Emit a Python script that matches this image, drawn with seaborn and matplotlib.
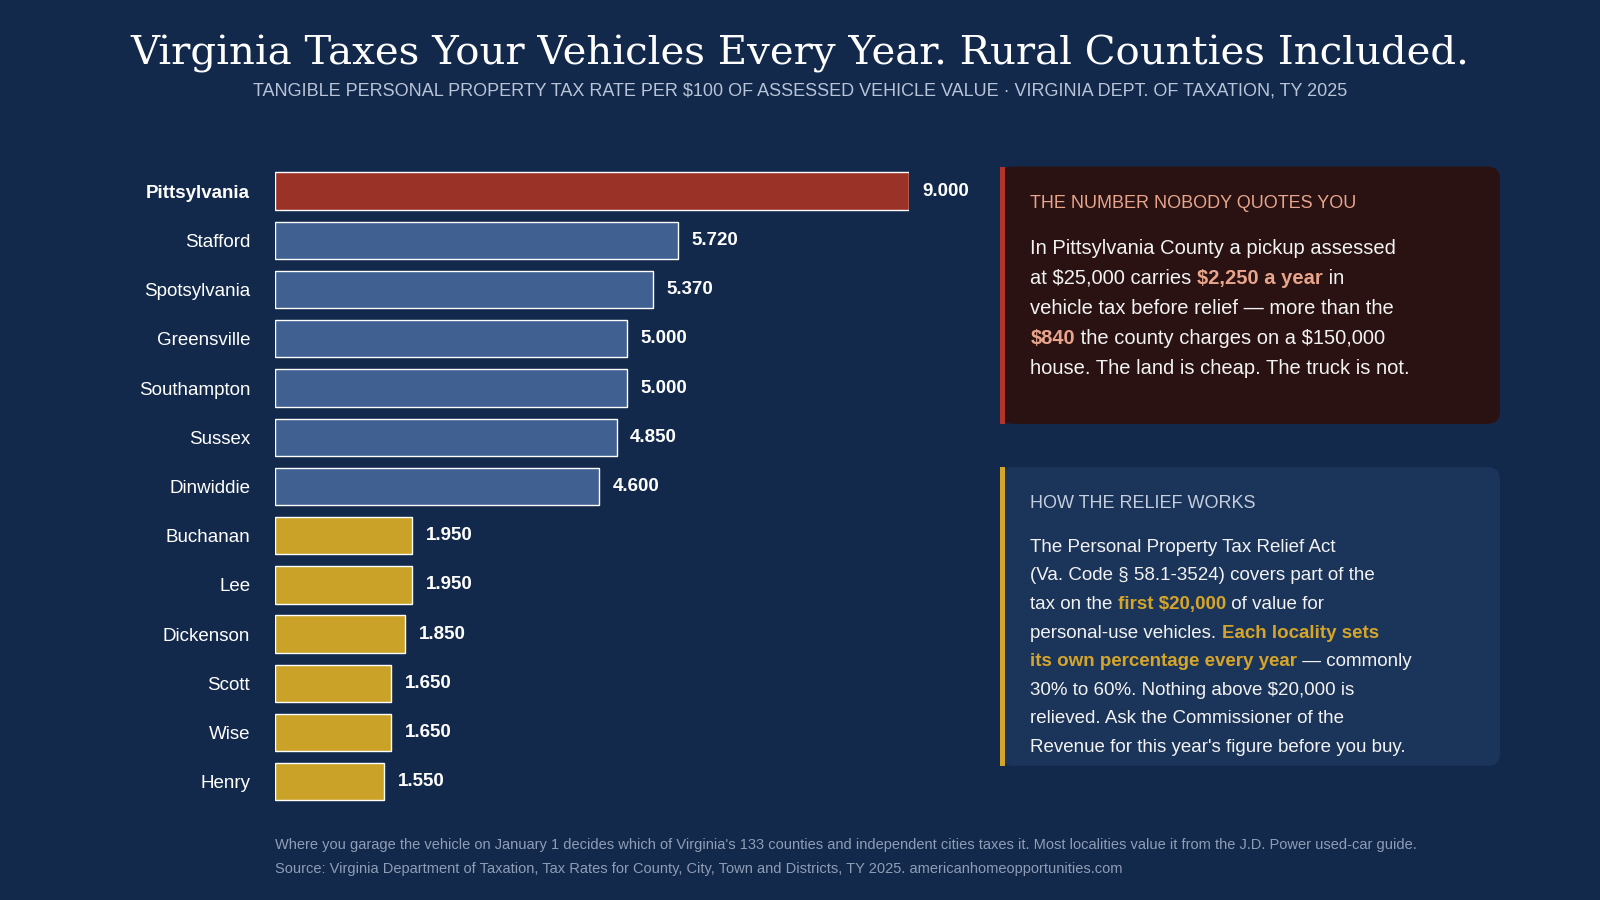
import matplotlib
matplotlib.use('Agg')
import matplotlib.pyplot as plt
from matplotlib.patches import FancyBboxPatch, Rectangle
import seaborn as sns
import pandas as pd

counties = ['Pittsylvania', 'Stafford', 'Spotsylvania', 'Greensville', 'Southampton', 'Sussex',
            'Dinwiddie', 'Buchanan', 'Lee', 'Dickenson', 'Scott', 'Wise', 'Henry']
rates = [9.000, 5.720, 5.370, 5.000, 5.000, 4.850, 4.600, 1.950, 1.950, 1.850, 1.650, 1.650, 1.550]
groups = ['top', 'high', 'high', 'high', 'high', 'high', 'high',
          'low', 'low', 'low', 'low', 'low', 'low']

BG = '#13294b'
palette = {'top': '#9b3228', 'high': '#3f6090', 'low': '#c9a227'}
SANS = 'Liberation Sans'

df = pd.DataFrame({'county': counties, 'rate': rates, 'group': groups})

sns.set_style('dark')
plt.rcParams['font.family'] = [SANS, 'DejaVu Sans']
fig = plt.figure(figsize=(16, 9), dpi=100, facecolor=BG)
ax = fig.add_axes([0.172, 0.104, 0.396, 0.711])
ax.set_facecolor(BG)
sns.barplot(data=df, y='county', x='rate', hue='group', palette=palette, dodge=False,
            legend=False, width=0.76, ax=ax, saturation=1)
ax.set_xlim(0, 9)
ax.set_ylim(len(counties) - 0.5, -0.5)
for s in ax.spines.values():
    s.set_visible(False)
ax.set_xticks([])
ax.set_xlabel('')
ax.set_ylabel('')
ax.tick_params(axis='y', length=0, pad=18, labelsize=13.5, labelcolor='white')
for lbl in ax.get_yticklabels():
    if lbl.get_text() == 'Pittsylvania':
        lbl.set_fontweight('bold')
for i, v in enumerate(rates):
    ax.text(v + 0.19, i, f'{v:.3f}', va='center', ha='left', color='white',
            fontsize=13.5, fontweight='bold')

fig.text(0.5, 0.94, 'Virginia Taxes Your Vehicles Every Year. Rural Counties Included.',
         ha='center', va='center', color='white', fontsize=29, family='DejaVu Serif')
fig.text(0.5, 0.899, 'TANGIBLE PERSONAL PROPERTY TAX RATE PER $100 OF ASSESSED VEHICLE VALUE · '
         'VIRGINIA DEPT. OF TAXATION, TY 2025', ha='center', va='center', color='#b8c4d8',
         fontsize=13)

fig.text(0.172, 0.061, "Where you garage the vehicle on January 1 decides which of Virginia's 133 counties "
         "and independent cities taxes it. Most localities value it from the J.D. Power used-car guide.",
         color='#8f9db5', fontsize=10.5, va='center')
fig.text(0.172, 0.035, 'Source: Virginia Department of Taxation, Tax Rates for County, City, Town and '
         'Districts, TY 2025. americanhomeopportunities.com', color='#8f9db5', fontsize=10.5, va='center')


def panel(x0, y0, x1, y1, face, edge):
    fig.patches.append(FancyBboxPatch((x0, y0), x1 - x0, y1 - y0, boxstyle='round,pad=0,rounding_size=0.008',
                                      transform=fig.transFigure, facecolor=face, edgecolor='none',
                                      mutation_aspect=16 / 9))
    fig.patches.append(Rectangle((x0, y0), 0.003, y1 - y0, transform=fig.transFigure,
                                 facecolor=edge, edgecolor='none'))


renderer = fig.canvas.get_renderer()


def rich_lines(x, y, lines, dy, size):
    for line in lines:
        cx = x
        for txt, bold, col in line:
            t = fig.text(cx, y, txt, color=col, fontsize=size, va='center',
                         fontweight='bold' if bold else 'normal')
            bb = t.get_window_extent(renderer)
            cx += bb.width / fig.bbox.width
        y -= dy


W = '#f2f2f2'
PINK = '#e8a58c'
GOLD = '#d4a52a'

panel(0.625, 0.529, 0.9375, 0.815, '#2a1212', '#b0362b')
fig.text(0.644, 0.774, 'THE NUMBER NOBODY QUOTES YOU', color=PINK, fontsize=13, va='center')
rich_lines(0.644, 0.724, [
    [('In Pittsylvania County a pickup assessed', False, W)],
    [('at $25,000 carries ', False, W), ('$2,250 a year', True, PINK), (' in', False, W)],
    [('vehicle tax before relief — more than the', False, W)],
    [('$840', True, PINK), (' the county charges on a $150,000', False, W)],
    [('house. The land is cheap. The truck is not.', False, W)],
], 0.0333, 14.5)

panel(0.625, 0.149, 0.9375, 0.481, '#1b3459', GOLD)
fig.text(0.644, 0.441, 'HOW THE RELIEF WORKS', color='#c4cede', fontsize=13, va='center')
rich_lines(0.644, 0.392, [
    [('The Personal Property Tax Relief Act', False, W)],
    [('(Va. Code § 58.1-3524) covers part of the', False, W)],
    [('tax on the ', False, W), ('first $20,000', True, GOLD), (' of value for', False, W)],
    [('personal-use vehicles. ', False, W), ('Each locality sets', True, GOLD)],
    [('its own percentage every year', True, GOLD), (' — commonly', False, W)],
    [('30% to 60%. Nothing above $20,000 is', False, W)],
    [('relieved. Ask the Commissioner of the', False, W)],
    [("Revenue for this year's figure before you buy.", False, W)],
], 0.0318, 13.5)

fig.savefig('out.png', dpi=100, facecolor=BG)
